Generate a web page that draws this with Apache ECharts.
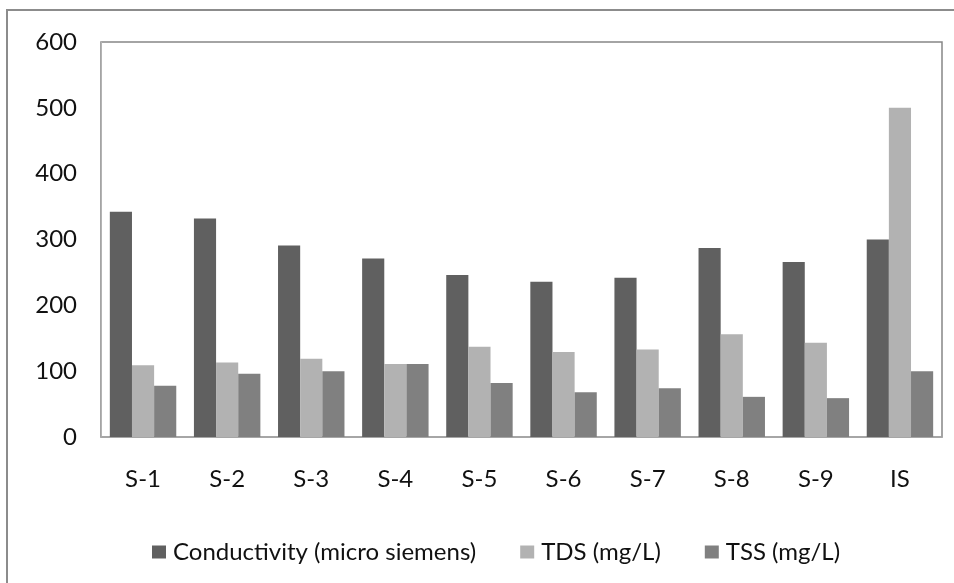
<!DOCTYPE html>
<html>
<head>
<meta charset="utf-8">
<script src="https://cdn.jsdelivr.net/npm/echarts@6/dist/echarts.min.js"></script>
<style>html,body{margin:0;padding:0;background:#fff}#c{width:954px;height:583px}</style>
</head>
<body>
<div id="c"></div>
<script>
const categories = ['S-1','S-2','S-3','S-4','S-5','S-6','S-7','S-8','S-9','IS'];
const conductivity = [342, 332, 291, 271, 246, 236, 242, 287, 266, 300];
const tds = [109, 113, 119, 111, 137, 129, 133, 156, 143, 500];
const tss = [78, 96, 100, 111, 82, 68, 74, 61, 59, 100];
const seriesNames = ['Conductivity (micro siemens)', 'TDS (mg/L)', 'TSS (mg/L)'];
const yTicks = {min: 0, max: 600, interval: 100};

const FONT = 'Lato';
const chart = echarts.init(document.getElementById('c'), null, {renderer: 'canvas'});
chart.setOption({
  backgroundColor: '#fff',
  animation: false,
  textStyle: {fontFamily: FONT},
  graphic: [{
    type: 'rect', z: 0,
    shape: {x: 7, y: 10, width: 1000, height: 700},
    style: {fill: 'none', stroke: '#8c8c8c', lineWidth: 2}
  }],
  grid: {left: 101, top: 42, right: 12, bottom: 146, show: true, borderColor: '#868686', borderWidth: 1.5, backgroundColor: 'transparent'},
  legend: {
    left: 147, top: 535,
    itemWidth: 14, itemHeight: 13, itemGap: 44,
    icon: 'rect',
    textStyle: {fontFamily: FONT, fontSize: 24, color: '#111', padding: [0, 0, 0, 2]},
    data: seriesNames
  },
  xAxis: {
    type: 'category', data: categories,
    axisLine: {lineStyle: {color: '#a6a6a6', width: 1.5}},
    axisTick: {show: false},
    axisLabel: {fontFamily: FONT, fontSize: 24, color: '#111', margin: 30}
  },
  yAxis: {
    type: 'value', min: yTicks.min, max: yTicks.max, interval: yTicks.interval,
    axisLine: {show: true, lineStyle: {color: '#b4b4b4', width: 1}},
    axisTick: {show: false},
    splitLine: {show: false},
    axisLabel: {fontFamily: FONT, fontSize: 24, color: '#111', margin: 24}
  },
  series: [
    {name: seriesNames[0], type: 'bar', data: conductivity, barGap: '0%', barCategoryGap: '21%', itemStyle: {color: '#606060'}},
    {name: seriesNames[1], type: 'bar', data: tds, barGap: '0%', barCategoryGap: '21%', itemStyle: {color: '#b2b2b2'}},
    {name: seriesNames[2], type: 'bar', data: tss, barGap: '0%', barCategoryGap: '21%', itemStyle: {color: '#808080'}}
  ]
});
</script>
</body>
</html>
